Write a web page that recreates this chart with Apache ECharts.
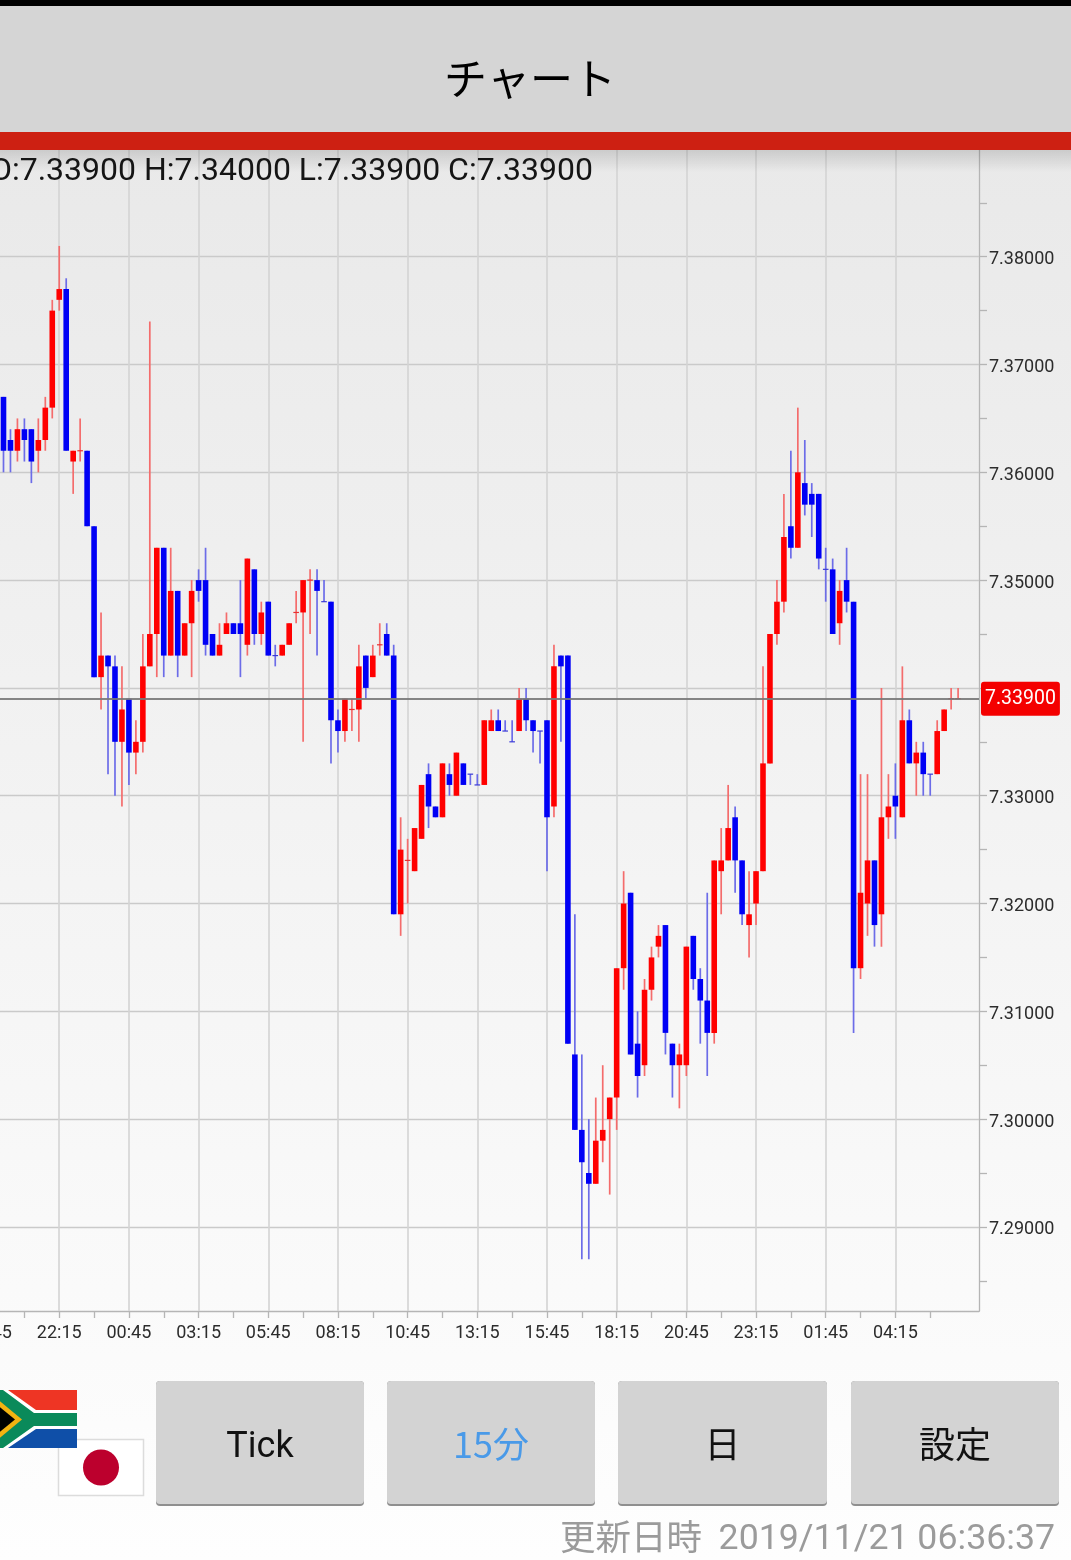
<!DOCTYPE html>
<html><head><meta charset="utf-8">
<style>html,body{margin:0;padding:0;background:#f4f4f4}#c{width:1071px;height:1560px}</style>
<script src="https://cdn.jsdelivr.net/npm/echarts@6/dist/echarts.min.js"></script>
</head><body><div id="c"></div>
<script>
// 15-minute candles (price grid step 0.001)
const opens = [7.367,7.363,7.362,7.364,7.364,7.362,7.363,7.366,7.376,7.377,7.361,7.362,7.362,7.355,7.341,7.343,7.342,7.335,7.339,7.334,7.335,7.342,7.345,7.353,7.343,7.349,7.343,7.346,7.350,7.350,7.345,7.343,7.345,7.346,7.346,7.344,7.351,7.345,7.348,7.343,7.343,7.344,7.347,7.347,7.350,7.350,7.348,7.348,7.337,7.336,7.338,7.338,7.343,7.341,7.344,7.345,7.343,7.319,7.324,7.323,7.326,7.332,7.329,7.328,7.332,7.330,7.333,7.332,7.331,7.331,7.336,7.337,7.336,7.335,7.336,7.339,7.337,7.336,7.337,7.329,7.343,7.343,7.306,7.299,7.295,7.294,7.298,7.300,7.302,7.314,7.321,7.307,7.305,7.312,7.316,7.318,7.307,7.305,7.305,7.317,7.313,7.311,7.308,7.323,7.324,7.328,7.324,7.318,7.320,7.323,7.333,7.345,7.348,7.355,7.353,7.359,7.358,7.358,7.351,7.351,7.346,7.350,7.348,7.314,7.320,7.324,7.319,7.328,7.330,7.328,7.337,7.333,7.334,7.332,7.332,7.336,7.339,7.339];
const closes = [7.362,7.362,7.364,7.363,7.361,7.363,7.366,7.375,7.377,7.362,7.362,7.362,7.355,7.341,7.343,7.342,7.335,7.338,7.334,7.335,7.342,7.345,7.353,7.343,7.349,7.343,7.346,7.349,7.349,7.344,7.343,7.344,7.346,7.345,7.345,7.352,7.345,7.347,7.343,7.343,7.344,7.346,7.347,7.350,7.350,7.349,7.348,7.337,7.336,7.339,7.338,7.342,7.340,7.343,7.344,7.343,7.319,7.325,7.324,7.327,7.331,7.329,7.328,7.333,7.331,7.334,7.331,7.332,7.331,7.337,7.337,7.336,7.336,7.335,7.339,7.337,7.336,7.336,7.328,7.342,7.342,7.307,7.299,7.296,7.294,7.298,7.299,7.302,7.314,7.320,7.306,7.304,7.312,7.315,7.317,7.308,7.305,7.306,7.316,7.313,7.311,7.308,7.324,7.324,7.327,7.324,7.319,7.319,7.323,7.333,7.345,7.348,7.354,7.353,7.360,7.357,7.357,7.352,7.351,7.345,7.349,7.348,7.314,7.321,7.324,7.318,7.328,7.329,7.329,7.337,7.333,7.334,7.332,7.332,7.336,7.338,7.339,7.339];
const highs = [7.367,7.364,7.365,7.365,7.364,7.365,7.367,7.376,7.381,7.378,7.362,7.365,7.362,7.355,7.347,7.343,7.343,7.342,7.339,7.337,7.345,7.374,7.353,7.353,7.353,7.349,7.346,7.350,7.351,7.353,7.345,7.346,7.347,7.346,7.350,7.352,7.351,7.348,7.348,7.344,7.344,7.346,7.349,7.350,7.351,7.351,7.350,7.348,7.338,7.339,7.339,7.344,7.343,7.344,7.346,7.346,7.344,7.328,7.326,7.327,7.331,7.333,7.329,7.333,7.333,7.334,7.333,7.332,7.332,7.337,7.338,7.338,7.337,7.337,7.340,7.340,7.337,7.336,7.337,7.344,7.343,7.343,7.319,7.306,7.300,7.302,7.305,7.302,7.314,7.323,7.321,7.310,7.313,7.316,7.318,7.318,7.307,7.307,7.316,7.317,7.314,7.321,7.324,7.327,7.331,7.329,7.324,7.323,7.323,7.342,7.345,7.350,7.358,7.362,7.366,7.363,7.359,7.358,7.353,7.352,7.350,7.353,7.348,7.332,7.332,7.324,7.340,7.332,7.333,7.342,7.338,7.335,7.335,7.332,7.337,7.338,7.340,7.340];
const lows = [7.360,7.360,7.361,7.361,7.359,7.360,7.362,7.365,7.375,7.362,7.358,7.361,7.355,7.341,7.338,7.332,7.330,7.329,7.331,7.332,7.334,7.342,7.341,7.341,7.343,7.341,7.343,7.341,7.348,7.343,7.343,7.343,7.345,7.345,7.341,7.343,7.344,7.344,7.343,7.342,7.343,7.344,7.346,7.335,7.345,7.343,7.348,7.333,7.334,7.335,7.336,7.335,7.339,7.341,7.343,7.343,7.319,7.317,7.320,7.323,7.326,7.327,7.328,7.328,7.330,7.330,7.331,7.331,7.331,7.331,7.336,7.336,7.336,7.335,7.336,7.336,7.334,7.333,7.323,7.328,7.335,7.307,7.299,7.287,7.287,7.294,7.296,7.293,7.299,7.312,7.306,7.302,7.304,7.311,7.315,7.306,7.302,7.301,7.304,7.312,7.307,7.304,7.307,7.319,7.324,7.321,7.318,7.315,7.318,7.323,7.333,7.344,7.347,7.352,7.353,7.356,7.354,7.351,7.348,7.345,7.344,7.347,7.308,7.313,7.317,7.316,7.316,7.326,7.326,7.328,7.333,7.330,7.330,7.330,7.332,7.336,7.338,7.339];
const blueDoji = [39,46,67,68,72,73,77,118,133];
const timeLabels = ['19:45','22:15','00:45','03:15','05:45','08:15','10:45','13:15','15:45','18:15','20:45','23:15','01:45','04:15'];
const timeLabelSlots = [0,10,20,30,40,50,60,70,80,90,100,110,120,130];
const timeTicks = [0,5,10,15,20,25,30,35,40,45,50,55,60,65,70,75,80,85,90,95,100,105,110,115,120,125,130,135];
const priceLevels = [7.29,7.30,7.31,7.32,7.33,7.34,7.35,7.36,7.37,7.38];
const priceLabels = [7.29,7.30,7.31,7.32,7.33,7.35,7.36,7.37,7.38];
const priceTicks = [7.285,7.29,7.295,7.30,7.305,7.31,7.315,7.32,7.325,7.33,7.335,7.34,7.345,7.35,7.355,7.36,7.365,7.37,7.375,7.38,7.385];
const lastPrice = 7.339;
const headerText = 'O:7.33900 H:7.34000 L:7.33900 C:7.33900';

const candles = opens.map((o,i)=>[i+2,o,closes[i],lows[i],highs[i],i]);
const RED='#ff0000',BLUE='#0000f5',RED_W='#f46c6c',BLUE_W='#6c6ce8';
function renderCandle(p,api){
  const x=api.value(0),o=api.value(1),c=api.value(2),l=api.value(3),h=api.value(4),idx=api.value(5);
  const isBlue=c<o||(c===o&&blueDoji.includes(idx));
  const px=api.coord([x,o])[0];
  const yo=api.coord([x,o])[1],yc=api.coord([x,c])[1],yl=api.coord([x,l])[1],yh=api.coord([x,h])[1];
  const children=[{type:'line',shape:{x1:px,y1:yh,x2:px,y2:yl},style:{stroke:isBlue?BLUE_W:RED_W,lineWidth:1.7}}];
  if(c===o){
    children.push({type:'line',shape:{x1:px-2.8,y1:yo,x2:px+2.8,y2:yo},style:{stroke:isBlue?'#3a3ad8':'#e83030',lineWidth:1.2}});
  }else{
    const top=Math.min(yo,yc);
    children.push({type:'rect',shape:{x:px-2.8,y:top,width:5.6,height:Math.abs(yo-yc)},style:{fill:isBlue?BLUE:RED}});
  }
  return {type:'group',children};
}
const font='Roboto, sans-serif', cjk='"Noto Sans CJK JP", sans-serif';
function button(x,w,label,color,fontStr,dy){
  return [
   {type:'rect',shape:{x:x,y:1381,width:w,height:125,r:4},style:{fill:'#8f8f8f'},z:10},
   {type:'rect',shape:{x:x,y:1381,width:w,height:123,r:4},style:{fill:'#d3d3d3'},z:11},
   {type:'text',style:{text:label,x:x+w/2,y:1444+(dy||0),align:'center',verticalAlign:'middle',font:fontStr,fill:color},z:12}
  ];
}
const graphics=[
  {type:'rect',shape:{x:0,y:0,width:1071,height:6},style:{fill:'#000'},z:20},
  {type:'rect',shape:{x:0,y:6,width:1071,height:126},style:{fill:'#d5d5d5'},z:20},
  {type:'rect',shape:{x:0,y:132,width:1071,height:18},style:{fill:'#cd2012'},z:20},
  {type:'rect',shape:{x:0,y:150,width:1071,height:22},style:{fill:new echarts.graphic.LinearGradient(0,0,0,1,[{offset:0,color:'rgba(0,0,0,0.13)'},{offset:1,color:'rgba(0,0,0,0)'}])},z:19},
  {type:'text',style:{text:'チャート',x:530,y:79,align:'center',verticalAlign:'middle',font:'43px '+cjk,fill:'#000'},z:21},
  {type:'text',style:{text:headerText,x:593,y:171.5,align:'right',verticalAlign:'middle',font:'32px '+font,fill:'#151515'},z:21},
  // Japanese flag
  {type:'rect',shape:{x:58.5,y:1439.5,width:85,height:56},style:{fill:'#fff',stroke:'#dcdcdc',lineWidth:1.5},z:10},
  {type:'circle',shape:{cx:101,cy:1467.5,r:18},style:{fill:'#bc002d'},z:11},
  // South African flag
  {type:'rect',shape:{x:-10,y:1390,width:87,height:58},style:{fill:'#fff'},z:12},
  {type:'polygon',shape:{points:[[8,1390],[77,1390],[77,1410],[36,1410]]},style:{fill:'#ee3524'},z:13},
  {type:'polygon',shape:{points:[[8,1448],[77,1448],[77,1429],[36,1429]]},style:{fill:'#0f4fa8'},z:13},
  {type:'polygon',shape:{points:[[-10,1390],[3,1390],[34,1413],[77,1413],[77,1426],[34,1426],[3,1448],[-10,1448]]},style:{fill:'#0a8a5a'},z:14},
  {type:'polygon',shape:{points:[[-10,1393],[22,1419.5],[-10,1446]]},style:{fill:'#f2b311'},z:15},
  {type:'polygon',shape:{points:[[-10,1399],[15,1419.5],[-10,1440]]},style:{fill:'#000'},z:16},
  ...button(156,208,'Tick','#111','36px '+font,4),
  ...button(387,208,'15分','#4a9ae8','36px '+cjk),
  ...button(618,209,'日','#111','36px '+cjk),
  ...button(851,208,'設定','#111','36px '+cjk),
  {type:'text',style:{text:'2019/11/21 06:36:37',x:1055,y:1540,align:'right',verticalAlign:'middle',font:'35.7px '+font,fill:'#9b9b9b'},z:12},
  {type:'text',style:{text:'更新日時',x:702,y:1537,align:'right',verticalAlign:'middle',font:'35.5px '+cjk,fill:'#9b9b9b'},z:12}
];
const chart=echarts.init(document.getElementById('c'),null,{renderer:'canvas'});
const gridData=[
  ...priceLevels.map(v=>({yAxis:v,lineStyle:{color:'#cacaca',width:1.4,type:'solid'}})),
  ...timeLabelSlots.slice(1).map(v=>({xAxis:v,lineStyle:{color:'#d4d4d4',width:1.6,type:'solid'}}))
];
chart.setOption({
  animation:false,
  backgroundColor:new echarts.graphic.LinearGradient(0,0,0,1,[{offset:0.09,color:'#e9e9e9'},{offset:1,color:'#fefefe'}]),
  grid:{left:-10.44,right:92,top:150,bottom:249,containLabel:false,outerBoundsMode:'none'},
  tooltip:{show:false},
  xAxis:{type:'value',min:0,max:142,position:'bottom',
    axisLine:{show:true,onZero:false,lineStyle:{color:'#b5b5b5',width:1.3}},
    axisTick:{show:true,length:7,customValues:timeTicks,lineStyle:{color:'#b5b5b5',width:1.3}},
    splitLine:{show:false},
    axisLabel:{show:true,margin:13,fontFamily:'Roboto',fontSize:18,color:'#2c2c2c',hideOverlap:false,customValues:timeLabelSlots,
      formatter:v=>timeLabels[timeLabelSlots.indexOf(v)]||''}
  },
  yAxis:{type:'value',position:'right',min:7.2822,max:7.3899,scale:true,
    axisLine:{show:true,onZero:false,lineStyle:{color:'#b5b5b5',width:1.3}},
    axisTick:{show:true,length:8,customValues:priceTicks,lineStyle:{color:'#b5b5b5',width:1.3}},
    splitLine:{show:false},
    axisLabel:{show:true,margin:10,fontFamily:'Roboto',fontSize:18,color:'#2c2c2c',customValues:priceLabels,verticalAlign:'top',lineHeight:6,
      formatter:v=>v.toFixed(5)}
  },
  series:[
   {type:'line',data:[],z:1,silent:true,
    markLine:{silent:true,symbol:'none',animation:false,precision:5,data:gridData,z:1,label:{show:false}}},
   {type:'custom',renderItem:renderCandle,data:candles,clip:true,
    encode:{x:0,y:[1,2,3,4]},silent:true,z:3,
    markLine:{silent:true,symbol:'none',animation:false,precision:5,data:[{yAxis:lastPrice}],z:5,
      lineStyle:{color:'rgba(120,120,120,0.9)',width:2,type:'solid'},
      label:{show:true,position:'end',distance:2,formatter:()=>lastPrice.toFixed(5),
        backgroundColor:'#f40000',color:'#fff',fontFamily:'Roboto',fontSize:19.5,
        padding:[7,4,7,4],borderRadius:3}}
   }],
  graphic:graphics
});
</script></body></html>
